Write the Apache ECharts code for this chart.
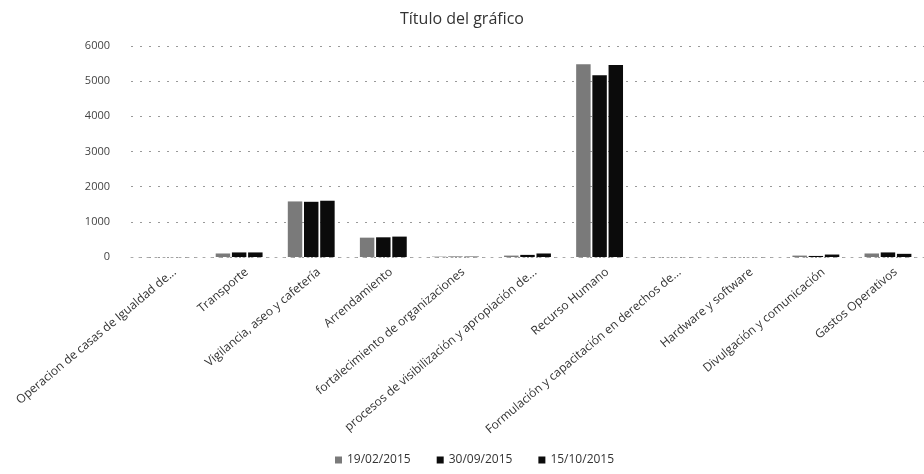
<!DOCTYPE html>
<html>
<head>
<meta charset="utf-8">
<script src="https://cdn.jsdelivr.net/npm/echarts@6/dist/echarts.min.js"></script>
<style>
html,body{margin:0;padding:0;background:#fff;}
#chart{width:924px;height:474px;}
</style>
</head>
<body>
<div id="chart"></div>
<script>
var categories = [
  "Operacion de casas de Igualdad de...",
  "Transporte",
  "Vigilancia, aseo y cafetería",
  "Arrendamiento",
  "fortalecimiento de organizaciones",
  "procesos de visibilización y apropiación de...",
  "Recurso Humano",
  "Formulación y capacitación en derechos de...",
  "Hardware y software",
  "Divulgación y comunicación",
  "Gastos Operativos"
];
var seriesNames = ["19/02/2015", "30/09/2015", "15/10/2015"];
var s1 = [0, 100, 1580, 550, 10, 40, 5480, 0, 0, 40, 100];
var s2 = [0, 130, 1570, 560, 10, 60, 5170, 0, 0, 30, 130];
var s3 = [0, 130, 1600, 580, 10, 100, 5460, 0, 0, 70, 90];
var yTicks = [0, 1000, 2000, 3000, 4000, 5000, 6000];

var colors = ["#7a7a7a", "#0b0b0b", "#0b0b0b"];
var font = "'Open Sans', sans-serif";
var chart = echarts.init(document.getElementById('chart'));
var data = [s1, s2, s3];
chart.setOption({
  animation: false,
  title: {
    text: "Título del gráfico",
    left: 'center',
    top: 6,
    textStyle: {fontFamily: font, fontSize: 16, fontWeight: 'normal', color: '#333'}
  },
  legend: {
    bottom: 3,
    left: 330,
    itemWidth: 7, itemHeight: 7, itemGap: 26,
    icon: 'rect',
    textStyle: {fontFamily: font, fontSize: 12, color: '#333'},
    data: seriesNames
  },
  grid: {left: 131, right: -8, top: 46, bottom: 217},
  xAxis: {
    type: 'category',
    data: categories,
    axisLine: {show: true, lineStyle: {color: '#aaa', type: [2, 6]}},
    axisTick: {show: false},
    axisLabel: {
      rotate: 40, interval: 0, margin: 20, padding: [0, -10, 0, 0],
      fontFamily: font, fontSize: 12, color: '#333'
    }
  },
  yAxis: {
    type: 'value',
    min: yTicks[0], max: yTicks[yTicks.length - 1], interval: 1000,
    axisLine: {show: false},
    axisTick: {show: false},
    axisLabel: {margin: 21, fontFamily: font, fontSize: 11, color: '#444',
      formatter: function (v) { return String(v); }},
    splitLine: {show: true, lineStyle: {color: '#999', type: [2, 7], width: 1}}
  },
  series: seriesNames.map(function (n, i) {
    return {
      name: n, type: 'bar', data: data[i],
      barGap: '12%', barCategoryGap: '35%',
      itemStyle: {color: colors[i]}
    };
  })
});
</script>
</body>
</html>
